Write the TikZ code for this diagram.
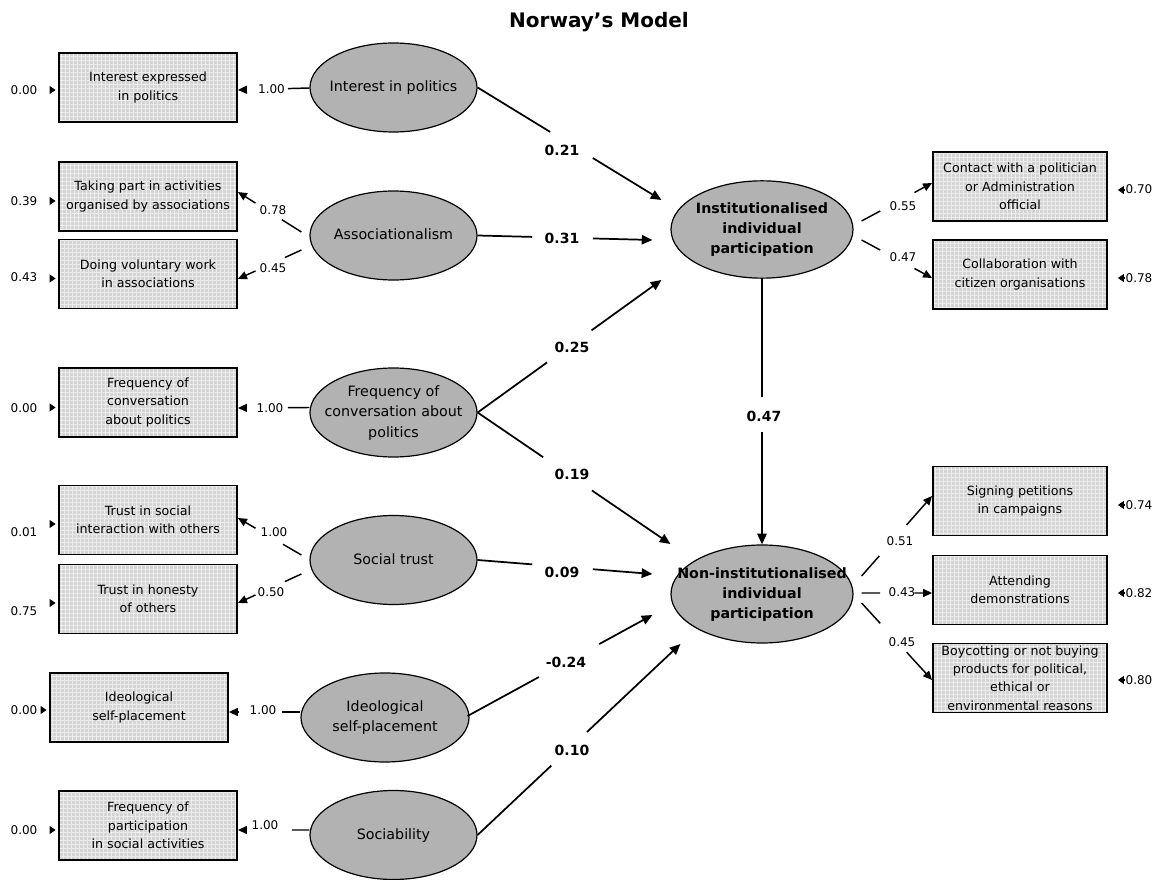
\documentclass[tikz,border=0pt]{standalone}
\usepackage{fontspec}
\setmainfont{DejaVu Sans}
\usetikzlibrary{calc,arrows.meta,shapes.geometric}
\definecolor{boxgray}{RGB}{212,212,212}
\definecolor{gridgray}{RGB}{236,236,236}
\definecolor{latgray}{RGB}{178,178,178}
\newcommand\zw[1]{\makebox[0pt][c]{\begin{tabular}{@{}c@{}}#1\end{tabular}}}
\newcommand\gapline[5]{\draw[#1] (#2) -- ($(#2)!#4!(#3)$) ($(#2)!#5!(#3)$) -- (#3);}
\begin{document}
\begin{tikzpicture}[x=0.75pt,y=-0.75pt,
  ind/.style={rectangle, draw=black, line width=1.4pt, fill=boxgray, minimum width=133.5pt,
    minimum height=51.75pt, inner sep=0pt, align=center,
    font=\fontsize{9.5pt}{13.8pt}\selectfont,
    path picture={\draw[gridgray, line width=0.35pt] (path picture bounding box.south west)
      grid[step=3pt] (path picture bounding box.north east);}},
  indr/.style={ind, minimum width=130.5pt},
  lat/.style={ellipse, draw=black, line width=0.9pt, fill=latgray, minimum width=125.25pt,
    minimum height=66.75pt, inner sep=0pt, font=\fontsize{10.7pt}{15.4pt}\selectfont},
  big/.style={lat, minimum width=136.5pt, minimum height=73pt,
    font=\bfseries\fontsize{10.7pt}{15pt}\selectfont},
  conn/.style={line width=1.3pt, -{Triangle[length=8pt,width=7pt]}},
  load/.style={line width=1.1pt, -{Triangle[length=6.75pt,width=6pt]}},
  errtip/.style={line width=0.8pt, -{Triangle[length=4.5pt,width=6pt]}},
  coef/.style={font=\bfseries\fontsize{10.5pt}{12pt}\selectfont, inner sep=0pt},
  ld/.style={font=\fontsize{9pt}{11pt}\selectfont, inner sep=0pt},
]
\fill[white] (0,0) rectangle (1175,880);
\useasboundingbox (0,0) rectangle (1175,880);

\node[font=\bfseries\fontsize{15pt}{18pt}\selectfont, inner sep=0pt] (title) at (599,22) {Norway’s Model};

% indicator boxes, left
\node[ind] (b1) at (148,87.5) {Interest expressed\\in politics};
\node[ind] (b2) at (148,196.5) {Taking part in activities\\organised by associations};
\node[ind] (b3) at (148,274) {Doing voluntary work\\in associations};
\node[ind] (b4) at (148,402.5) {Frequency of\\conversation\\about politics};
\node[ind] (b5) at (148,520) {Trust in social\\interaction with others};
\node[ind] (b6) at (148,599) {Trust in honesty\\of others};
\node[ind] (b7) at (139,707.5) {Ideological\\self-placement};
\node[ind] (b8) at (148,825.5) {Frequency of\\participation\\in social activities};

% latent variables, left
\node[lat] (l1) at (393.5,87.5) {\zw{Interest in politics}};
\node[lat] (l2) at (393.5,235.5) {\zw{Associationalism}};
\node[lat] (l3) at (393.5,412.5) {\zw{Frequency of\\conversation about\\politics}};
\node[lat] (l4) at (393.5,560) {\zw{Social trust}};
\node[lat, minimum width=126pt] (l5) at (385,717.5) {\zw{Ideological\\self-placement}};
\node[lat] (l6) at (393.5,835) {\zw{Sociability}};

% dependent latent variables
\node[big] (inst) at (762,229.5) {\zw{Institutionalised\\individual\\participation}};
\node[big, minimum height=73.5pt] (noninst) at (762,594) {\zw{Non-institutionalised\\individual\\participation}};

% indicator boxes, right
\node[indr] (r1) at (1020,186.5) {Contact with a politician\\or Administration\\official};
\node[indr] (r2) at (1020,274.5) {Collaboration with\\citizen organisations};
\node[indr] (r3) at (1020,501) {Signing petitions\\in campaigns};
\node[indr] (r4) at (1020,590) {Attending\\demonstrations};
\node[indr] (r5) at (1020,678) {Boycotting or not buying\\products for political,\\ethical or\\environmental reasons};

% error terms, left
\node[ld] (e1) at (24,90) {0.00};
\node[ld] (e2) at (24,201) {0.39};
\node[ld] (e3) at (24,277) {0.43};
\node[ld] (e4) at (24,408) {0.00};
\node[ld] (e5) at (24,532) {0.01};
\node[ld] (e6) at (24,611) {0.75};
\node[ld] (e7) at (24,710) {0.00};
\node[ld] (e8) at (24,830) {0.00};
\draw[errtip] ($(b1.west)+(-8.5,2.5)$) -- ($(b1.west)+(-2.5,2.5)$);
\draw[errtip] ($(b2.west)+(-8.5,4.5)$) -- ($(b2.west)+(-2.5,4.5)$);
\draw[errtip] ($(b3.west)+(-8.5,4.5)$) -- ($(b3.west)+(-2.5,4.5)$);
\draw[errtip] ($(b4.west)+(-8.5,5)$) -- ($(b4.west)+(-2.5,5)$);
\draw[errtip] ($(b5.west)+(-8.5,4)$) -- ($(b5.west)+(-2.5,4)$);
\draw[errtip] ($(b6.west)+(-8.5,4)$) -- ($(b6.west)+(-2.5,4)$);
\draw[errtip] ($(b7.west)+(-8.5,2.5)$) -- ($(b7.west)+(-2.5,2.5)$);
\draw[errtip] ($(b8.west)+(-8.5,4.5)$) -- ($(b8.west)+(-2.5,4.5)$);

% error terms, right
\node[ld] (f1) at (1139,189) {0.70};
\node[ld] (f2) at (1139,278) {0.78};
\node[ld] (f3) at (1139,505) {0.74};
\node[ld] (f4) at (1139,593) {0.82};
\node[ld] (f5) at (1139,680) {0.80};
\draw[errtip] ($(r1.east)+(16,3.5)$) -- ($(r1.east)+(10,3.5)$);
\draw[errtip] ($(r2.east)+(16,3.5)$) -- ($(r2.east)+(10,3.5)$);
\draw[errtip] ($(r3.east)+(16,4)$) -- ($(r3.east)+(10,4)$);
\draw[errtip] ($(r4.east)+(16,3)$) -- ($(r4.east)+(10,3)$);
\draw[errtip] ($(r5.east)+(16,2)$) -- ($(r5.east)+(10,2)$);

% structural paths
\coordinate (s1) at (l1.east);  \coordinate (t1) at ($(inst.west)+(-9,-29.5)$);
\coordinate (s2) at (l2.east);  \coordinate (t2) at ($(inst.west)+(-18,10.5)$);
\coordinate (s3) at (l3.east);  \coordinate (t3) at ($(inst.west)+(-9,50.5)$);
\coordinate (s4) at (l3.east);  \coordinate (t4) at ($(noninst.west)+(0,-50)$);
\coordinate (s5) at (l4.east);  \coordinate (t5) at ($(noninst.west)+(-18,-20)$);
\coordinate (s6) at ($(l5.east)+(-2,-1.5)$); \coordinate (t6) at ($(noninst.west)+(-18,21)$);
\coordinate (s7) at (l6.east);  \coordinate (t7) at ($(noninst.west)+(10,50)$);
\gapline{conn}{s1}{t1}{0.395}{0.627}
\gapline{conn}{s2}{t2}{0.3125}{0.659}
\gapline{conn}{s3}{t3}{0.378}{0.62}
\gapline{conn}{s4}{t4}{0.34}{0.593}
\gapline{conn}{s5}{t5}{0.3125}{0.659}
\gapline{conn}{s6}{t6}{0.386}{0.712}
\gapline{conn}{s7}{t7}{0.363}{0.539}
\gapline{conn}{inst.south}{noninst.north}{0.446}{0.577}
\node[coef] (k1) at (562,150) {0.21};
\node[coef] (k2) at (562,238) {0.31};
\node[coef] (k3) at (572,347) {0.25};
\node[coef] (k4) at (572,474) {0.19};
\node[coef] (k5) at (562,572) {0.09};
\node[coef] (k6) at (566,662) {-0.24};
\node[coef] (k7) at (572,750) {0.10};
\node[coef] (k8) at (764,416) {0.47};

% right loadings
\coordinate (s9) at ($(inst.east)+(8,-8.5)$);    \coordinate (t9) at ($(r1.west)+(0,-3.5)$);
\coordinate (s10) at ($(inst.east)+(8,10.5)$);   \coordinate (t10) at ($(r2.west)+(0,3.5)$);
\coordinate (s11) at ($(noninst.east)+(8,-18)$); \coordinate (t11) at ($(r3.west)+(0,-5)$);
\coordinate (s12) at ($(noninst.east)+(8,-1)$);  \coordinate (t12) at ($(r4.west)+(0,3)$);
\coordinate (s13) at ($(noninst.east)+(8,9)$);   \coordinate (t13) at ($(r5.west)+(0,2)$);
\gapline{load}{s9}{t9}{0.264}{0.75}
\gapline{load}{s10}{t10}{0.264}{0.75}
\gapline{load}{s11}{t11}{0.25}{0.639}
\gapline{load}{s12}{t12}{0.264}{0.75}
\gapline{load}{s13}{t13}{0.264}{0.639}
\node[ld] (m1) at (903,206) {0.55};
\node[ld] (m2) at (903,257) {0.47};
\node[ld] (m3) at (900,541) {0.51};
\node[ld] (m4) at (902,592) {0.43};
\node[ld] (m5) at (902,642) {0.45};

% left loadings
\coordinate (s14) at ($(l1.west)+(0,0.5)$);    \coordinate (t14) at ($(b1.east)+(0,2.5)$);
\coordinate (s15) at ($(l2.west)+(-8,-3.5)$);  \coordinate (t15) at ($(b2.east)+(0,-4.5)$);
\coordinate (s16) at ($(l2.west)+(-8,14.5)$);  \coordinate (t16) at ($(b3.east)+(0,5)$);
\coordinate (s17) at ($(l3.west)+(0,-5)$);     \coordinate (t17) at ($(b4.east)+(0,5.5)$);
\coordinate (s18) at ($(l4.west)+(-8,-5)$);    \coordinate (t18) at ($(b5.east)+(0,-2)$);
\coordinate (s19) at ($(l4.west)+(-8,14)$);    \coordinate (t19) at ($(b6.east)+(0,4)$);
\coordinate (s20) at ($(l5.west)+(0,-5.5)$);   \coordinate (t20) at ($(b7.east)+(0,4.5)$);
\coordinate (s21) at ($(l6.west)+(0,-5)$);     \coordinate (t21) at ($(b8.east)+(0,4.5)$);
\gapline{load}{s14}{t14}{0.301}{0.877}
\gapline{load}{s15}{t15}{0.308}{0.723}
\gapline{load}{s16}{t16}{0.26}{0.723}
\gapline{load}{s17}{t17}{0.301}{0.877}
\gapline{load}{s18}{t18}{0.29}{0.723}
\gapline{load}{s19}{t19}{0.26}{0.723}
\gapline{load}{s20}{t20}{0.26}{0.877}
\gapline{load}{s21}{t21}{0.247}{0.877}
\node[ld] (n1) at (271.5,89) {1.00};
\node[ld] (n2) at (273,210) {0.78};
\node[ld] (n3) at (273,268) {0.45};
\node[ld] (n4) at (270,408) {1.00};
\node[ld] (n5) at (274,532) {1.00};
\node[ld] (n6) at (271,592) {0.50};
\node[ld] (n7) at (263,710) {1.00};
\node[ld] (n8) at (265,825) {1.00};
\end{tikzpicture}
\end{document}
